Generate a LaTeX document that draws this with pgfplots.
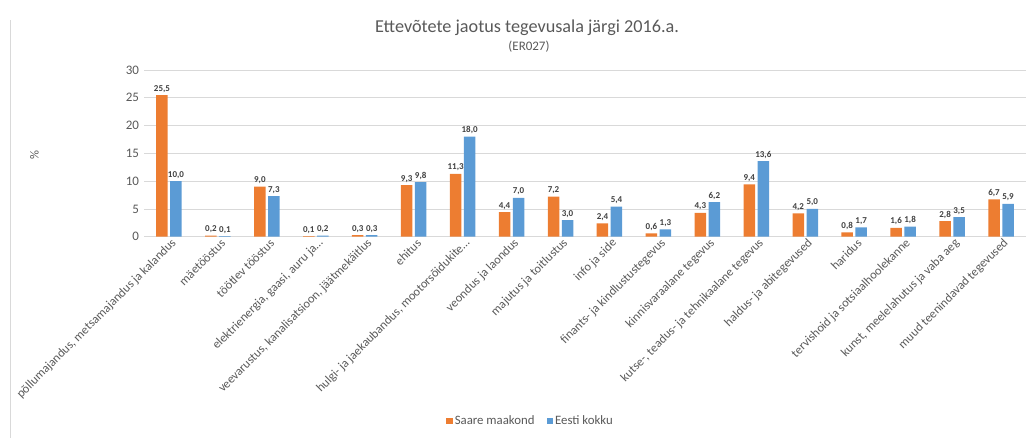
\documentclass[border=0pt]{standalone}
\usepackage{pgfplots}
\pgfplotsset{compat=1.18}
\usepackage{fontspec}
\setmainfont{Carlito}
\definecolor{cOr}{HTML}{ED7D31}
\definecolor{cBl}{HTML}{5B9BD5}
\definecolor{cGrid}{HTML}{D9D9D9}
\definecolor{cTxt}{HTML}{595959}
\definecolor{cLab}{HTML}{404040}
\begin{document}
\begin{tikzpicture}[x=1pt,y=1pt]
\path[use as bounding box] (-144.5,-201.3) rectangle (881.5,236.7);
\draw[cGrid,line width=0.8pt] (-134.5,-201.3) -- (-134.5,216.7);
\node[font=\fontsize{18.2}{20}\selectfont,text=cTxt] at (382.5,208.7) {Ettevõtete jaotus tegevusala järgi 2016.a.};
\node[font=\fontsize{13}{14}\selectfont,text=cTxt] at (384.5,189.7) {(ER027)};
\node[font=\fontsize{12.5}{14}\selectfont,text=cTxt,rotate=90] at (-110,81.7) {\%};
\begin{axis}[
  at={(0,0)}, anchor=south west,
  scale only axis, width=881pt, height=166.7pt,
  ybar=2.5pt, bar width=11.5pt,
  xmin=-0.5, xmax=17.5, ymin=0, ymax=30,
  ytick={0,5,10,15,20,25,30},
  xtick={0,1,2,3,4,5,6,7,8,9,10,11,12,13,14,15,16,17},
  xticklabels={{põllumajandus, metsamajandus ja kalandus},{mäetööstus},{töötlev tööstus},{elektrienergia, gaasi, auru ja\ldots},{veevarustus, kanalisatsioon, jäätmekäitlus},{ehitus},{hulgi- ja jaekaubandus, mootorsõidukite\ldots},{veondus ja laondus},{majutus ja toitlustus},{info ja side},{finants- ja kindlustustegevus},{kinnisvaraalane tegevus},{kutse-, teadus- ja tehnikaalane tegevus},{haldus- ja abitegevused},{haridus},{tervishoid ja sotsiaalhoolekanne},{kunst, meelelahutus ja vaba aeg},{muud teenindavad tegevused}},
  xticklabel style={rotate=45, anchor=east, font=\fontsize{12.4}{14}\selectfont, text=cTxt, xshift=4pt, yshift=-7pt},
  yticklabel style={font=\fontsize{13}{14}\selectfont, text=cTxt, xshift=-2pt},
  /pgf/number format/assume math mode=true,
  ymajorgrids, grid style={cGrid, line width=0.8pt},
  axis line style={draw=none},
  axis x line*=bottom, axis y line*=left,
  major tick length=0pt,
  x axis line style={draw=cGrid,line width=0.8pt},
  nodes near coords={\pgfmathprintnumber[fixed,fixed zerofill,precision=1,use comma,assume math mode=true]{\pgfplotspointmeta}},
  every node near coord/.append style={font=\bfseries\fontsize{9}{10}\selectfont, text=cLab, inner sep=2.5pt},
  legend style={at={(386pt,-184.3pt)}, anchor=center, draw=none, legend columns=2, font=\fontsize{12.8}{14}\selectfont, text=cTxt, /tikz/every even column/.append style={column sep=10pt}},
  legend image code/.code={\fill[#1] (0pt,-3.3pt) rectangle (6.6pt,3.3pt);},
  clip=false,
]
\addplot[fill=cOr, draw=none] coordinates {(0,25.5) (1,0.2) (2,9.0) (3,0.1) (4,0.3) (5,9.3) (6,11.3) (7,4.4) (8,7.2) (9,2.4) (10,0.6) (11,4.3) (12,9.4) (13,4.2) (14,0.8) (15,1.6) (16,2.8) (17,6.7)};
\addplot[fill=cBl, draw=none] coordinates {(0,10.0) (1,0.1) (2,7.3) (3,0.2) (4,0.3) (5,9.8) (6,18.0) (7,7.0) (8,3.0) (9,5.4) (10,1.3) (11,6.2) (12,13.6) (13,5.0) (14,1.7) (15,1.8) (16,3.5) (17,5.9)};
\legend{Saare maakond, Eesti kokku}
\end{axis}
\end{tikzpicture}
\end{document}
